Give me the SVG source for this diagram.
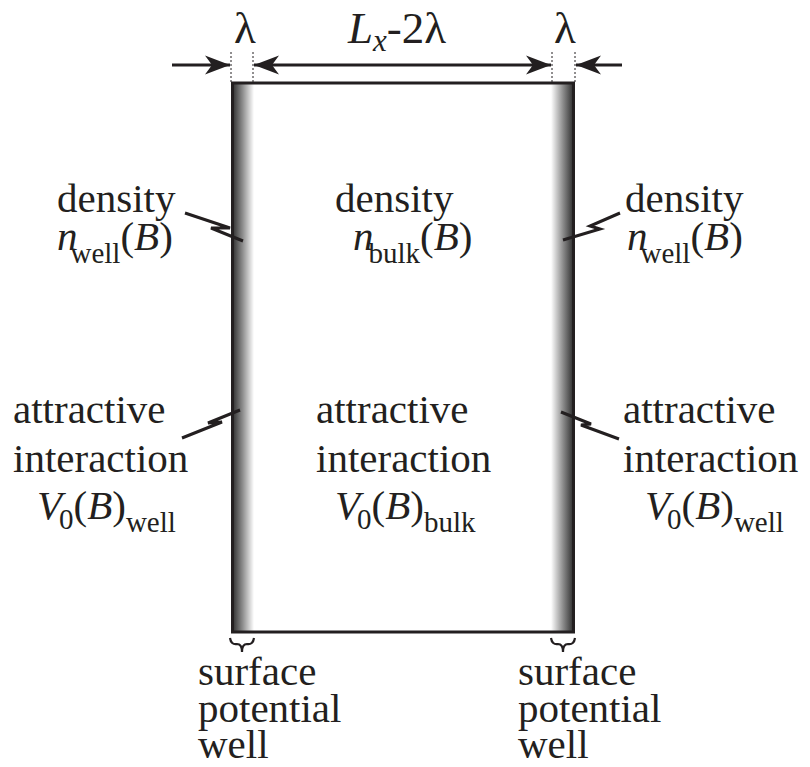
<svg xmlns="http://www.w3.org/2000/svg" width="810" height="767" viewBox="0 0 810 767">
<style>
.ln{stroke:#231f20;stroke-width:3;fill:none}
.dash{stroke:#231f20;stroke-width:1;stroke-dasharray:2 2;fill:none}
.zz{stroke:#231f20;stroke-width:3;fill:none;stroke-linejoin:miter}
.br{stroke:#231f20;stroke-width:2.2;fill:none}
</style>
<defs>
<linearGradient id="gL" x1="0" y1="0" x2="1" y2="0">
<stop offset="0" stop-color="#1a1a1a"/>
<stop offset="0.12" stop-color="#3a3a3a"/>
<stop offset="0.5" stop-color="#8c8c8c"/>
<stop offset="1" stop-color="#ffffff"/>
</linearGradient>
<linearGradient id="gR" x1="1" y1="0" x2="0" y2="0">
<stop offset="0" stop-color="#1a1a1a"/>
<stop offset="0.12" stop-color="#3a3a3a"/>
<stop offset="0.5" stop-color="#8c8c8c"/>
<stop offset="1" stop-color="#ffffff"/>
</linearGradient>
<marker id="ah" markerWidth="26" markerHeight="20" refX="25" refY="10" orient="auto-start-reverse" markerUnits="userSpaceOnUse">
<path d="M25,10 L0,0.5 L7,10 L0,19.5 Z" fill="#231f20"/>
</marker>
</defs>

<g id="box">
<rect x="231" y="83" width="23" height="549" fill="url(#gL)"/>
<rect x="551" y="83" width="24" height="549" fill="url(#gR)"/>
<path class="ln" d="M232.5,83 H573.5 V632 H232.5 Z"/>
</g>

<g id="dimensions" font-family="Liberation Serif" font-size="45" fill="#231f20">
<path class="dash" d="M231,52 V83 M253,52 V83 M552,52 V83 M575,52 V83"/>
<line class="ln" x1="172" y1="65" x2="230" y2="65" stroke-width="2" marker-end="url(#ah)"/>
<line class="ln" x1="254" y1="65" x2="551" y2="65" stroke-width="2" marker-start="url(#ah)" marker-end="url(#ah)"/>
<line class="ln" x1="622" y1="65" x2="576" y2="65" stroke-width="2" marker-end="url(#ah)"/>
<text x="245" y="43" text-anchor="middle">λ</text>
<text x="565" y="43" text-anchor="middle">λ</text>
<text x="348" y="43"><tspan font-style="italic">L</tspan><tspan font-style="italic" font-size="31" dy="8">x</tspan><tspan dy="-8">-2λ</tspan></text>
</g>

<g id="connectors">
<path class="zz" d="M185,213 L230,228 L211,228 L243,241"/>
<path class="zz" d="M182,438 L222,422 L208,423 L240,410"/>
<path class="zz" d="M620,213 L590,226 L600,229 L563,240"/>
<path class="zz" d="M619,439 L581,425 L591,424 L561,412"/>
</g>

<g font-family="Liberation Serif" font-size="41" fill="#231f20">
<g id="left-density">
<text x="57" y="212">density</text>
<text x="57" y="250"><tspan font-style="italic">n</tspan><tspan font-size="29" dx="-7" dy="13">well</tspan><tspan dy="-13">(</tspan><tspan font-style="italic">B</tspan>)</text>
</g>
<g id="center-density">
<text x="335" y="212">density</text>
<text x="353" y="250"><tspan font-style="italic">n</tspan><tspan font-size="29" dx="-5" dy="13">bulk</tspan><tspan dy="-13">(</tspan><tspan font-style="italic">B</tspan>)</text>
</g>
<g id="right-density">
<text x="625" y="212">density</text>
<text x="627" y="250"><tspan font-style="italic">n</tspan><tspan font-size="29" dx="-7" dy="13">well</tspan><tspan dy="-13">(</tspan><tspan font-style="italic">B</tspan>)</text>
</g>

<g id="left-interaction">
<text x="13" y="423">attractive</text>
<text x="13" y="472">interaction</text>
<text x="37" y="519"><tspan font-style="italic">V</tspan><tspan font-size="29" dx="-3" dy="10">0</tspan><tspan dy="-10">(</tspan><tspan font-style="italic">B</tspan>)<tspan font-size="29" dy="13">well</tspan></text>
</g>
<g id="center-interaction">
<text x="316" y="423">attractive</text>
<text x="316" y="472">interaction</text>
<text x="335" y="519"><tspan font-style="italic">V</tspan><tspan font-size="29" dx="-3" dy="10">0</tspan><tspan dy="-10">(</tspan><tspan font-style="italic">B</tspan>)<tspan font-size="29" dy="13">bulk</tspan></text>
</g>
<g id="right-interaction">
<text x="623" y="423">attractive</text>
<text x="623" y="472">interaction</text>
<text x="645" y="519"><tspan font-style="italic">V</tspan><tspan font-size="29" dx="-3" dy="10">0</tspan><tspan dy="-10">(</tspan><tspan font-style="italic">B</tspan>)<tspan font-size="29" dy="13">well</tspan></text>
</g>

<g id="left-well">
<path class="br" d="M230,638 Q231,645 237,644 Q242,644 242,652 Q242,644 247,644 Q253,645 254,638"/>
<text x="198" y="685">surface</text>
<text x="198" y="722">potential</text>
<text x="198" y="758">well</text>
</g>
<g id="right-well">
<path class="br" d="M551,638 Q552,645 558,644 Q563,644 563,652 Q563,644 568,644 Q574,645 575,638"/>
<text x="518" y="685">surface</text>
<text x="518" y="722">potential</text>
<text x="518" y="758">well</text>
</g>
</g>
</svg>
